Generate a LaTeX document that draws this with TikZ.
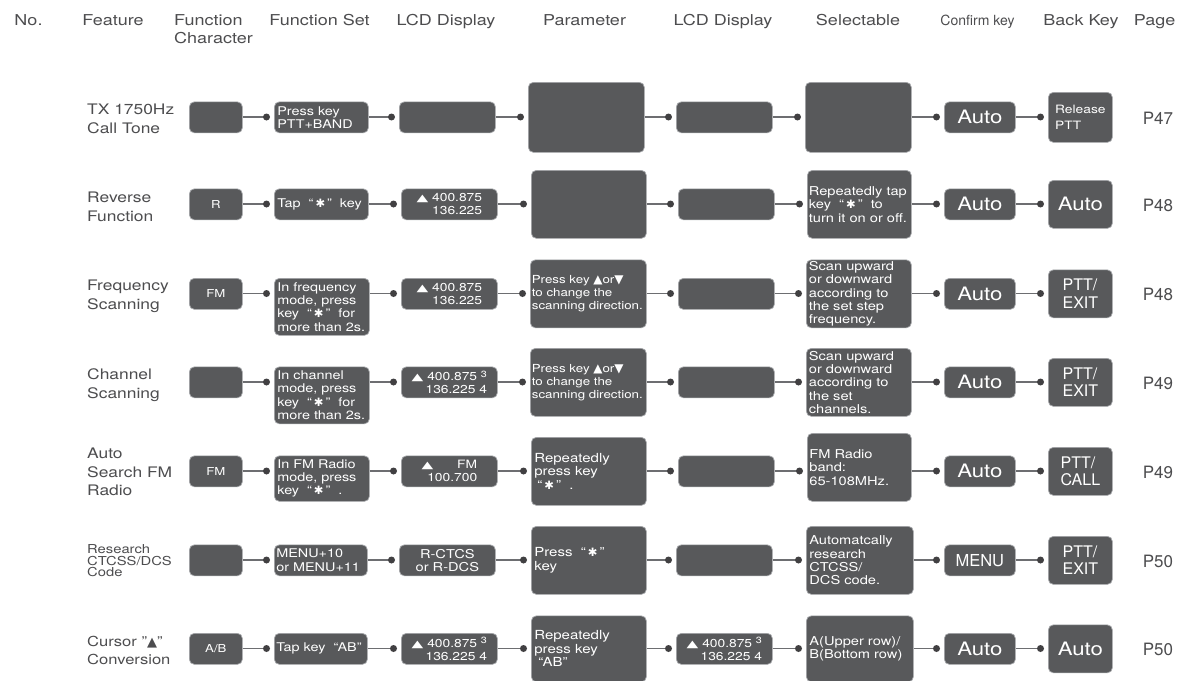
\documentclass[tikz,border=0pt]{standalone}
\usepackage{fontspec}
\setmainfont{TeX Gyre Heros}[FakeStretch=1.2]
\newfontfamily\plainf{TeX Gyre Heros}
\newfontfamily\symf{DejaVu Sans}
\usetikzlibrary{calc}
\definecolor{boxfill}{HTML}{58595B}
\definecolor{boxline}{HTML}{A7A9AC}
\definecolor{connc}{HTML}{6D6E71}
\definecolor{dotc}{HTML}{414042}
\definecolor{labc}{HTML}{4D4D4F}
\newcommand{\tri}{\scalebox{1.45}[0.95]{\symf\fontsize{10.5}{10}\selectfont ▲}}
\newcommand{\tru}{{\symf\fontsize{12}{10}\selectfont ▲}}
\newcommand{\trd}{{\symf\fontsize{12}{10}\selectfont ▼}}
\newcommand{\stk}{“\,{\symf\fontsize{11.5}{10}\selectfont ✱}\,”}
\newcommand{\sth}{\raisebox{3.5pt}{\fontsize{9}{9}\selectfont 3}}
\newcommand{\bx}[7][]{%
  \pgfmathsetmacro{\bxw}{(#5)-(#3)}%
  \pgfmathsetmacro{\bxh}{(#6)-(#4)}%
  \node[box, anchor=north west, minimum width=\bxw pt, minimum height=\bxh pt, #1] (#2) at (#3,#4) {#7};}
\newcommand{\lnk}[3]{\draw[conn] (#1.east |- #3) -- ($(#2.west |- #3)+(-7.5,0)$) node[dotn]{};}
\tikzset{
 box/.style={fill=boxfill, draw=boxline, line width=0.7pt, rounded corners=5pt, text=white, inner sep=0pt, align=center, font=\fontsize{12.2}{13.3}\selectfont},
 conn/.style={draw=connc, line width=1.5pt},
 dotn/.style={circle, fill=dotc, draw=none, inner sep=0pt, minimum size=7pt},
 hdr/.style={text=labc, font=\fontsize{15}{18}\selectfont, anchor=base, inner sep=0pt},
 feat/.style={text=labc, anchor=west, align=left, inner sep=0pt, font=\fontsize{14.5}{18.5}\selectfont},
 pg/.style={text=labc, inner sep=0pt, font=\plainf\fontsize{17}{18}\selectfont},
 lt/.style={align=left, text width=#1},
 fsf/.style={font=\fontsize{12}{13.3}\selectfont},
 big/.style={font=\fontsize{18.5}{20}\selectfont},
 bk/.style={font=\plainf\fontsize{16}{17.5}\selectfont, align=left},
 lcd/.style={font=\fontsize{11.5}{13}\selectfont, align=right},
 fcs/.style={font=\fontsize{11}{12}\selectfont},
}
\begin{document}
\begin{tikzpicture}[x=1pt,y=-1pt]
\fill[white] (0,0) rectangle (1177,680);
\useasboundingbox (0,0) rectangle (1177,680);
% headers
\node[hdr] (h1) at (28.5,25) {No.};
\node[hdr] (h2) at (113,25) {Feature};
\node[hdr, anchor=north west, align=left] (h3) at (174,14) {Function\\Character};
\node[hdr] (h4) at (319.5,25) {Function Set};
\node[hdr] (h5) at (446,25) {LCD Display};
\node[hdr] (h6) at (584.5,25) {Parameter};
\node[hdr] (h7) at (723,25) {LCD Display};
\node[hdr] (h8) at (858,25) {Selectable};
\node[hdr, font=\plainf\fontsize{14}{16}\selectfont] (h9) at (977.5,25) {Confirm key};
\node[hdr] (h10) at (1081,25) {Back Key};
\node[hdr] (h11) at (1154.5,25) {Page};
% ---------------- row 1
\pgfmathsetmacro\rc{117}
\coordinate (y1) at (0,\rc);
\node[feat] (f1) at (87,\rc+2) {TX 1750Hz\\Call Tone};
\bx[fcs]{fc1}{189}{\rc-15.5}{242}{\rc+15.5}{}
\bx[lt=88pt, fsf]{fs1}{274}{\rc-15.5}{368}{\rc+15.5}{Press key\\PTT+BAND}
\bx[lcd]{lcd1}{399}{\rc-15.5}{495}{\rc+15.5}{}
\bx{par1}{528}{\rc-35}{644}{\rc+35}{}
\bx[lcd]{lcdb1}{676}{\rc-15.5}{772}{\rc+15.5}{}
\bx{sel1}{805}{\rc-35}{911}{\rc+35}{}
\bx[big]{con1}{944}{\rc-15.5}{1015}{\rc+15.5}{Auto}
\bx[bk, font=\fontsize{11.5}{16}\selectfont]{bak1}{1048}{\rc-25}{1112}{\rc+25}{Release\\PTT}
\node[pg] (p1) at (1158,\rc+1) {P47};
\lnk{fc1}{fs1}{y1}\lnk{fs1}{lcd1}{y1}\lnk{lcd1}{par1}{y1}\lnk{par1}{lcdb1}{y1}
\lnk{lcdb1}{sel1}{y1}\lnk{sel1}{con1}{y1}\lnk{con1}{bak1}{y1}
% ---------------- row 2
\pgfmathsetmacro\rc{204}
\coordinate (y2) at (0,\rc);
\node[feat] (f2) at (87,\rc+3) {Reverse\\Function};
\bx[fcs]{fc2}{189}{\rc-15.5}{242}{\rc+15.5}{R}
\bx[lt=88pt, fsf]{fs2}{274}{\rc-15.5}{368}{\rc+15.5}{\mbox{Tap \ \stk\ \ key}}
\bx[lcd]{lcd2}{401}{\rc-15.5}{497}{\rc+15.5}{\tri\ 400.875\\136.225}
\bx{par2}{531}{\rc-34}{646}{\rc+34}{}
\bx[lcd]{lcdb2}{678}{\rc-15.5}{774}{\rc+15.5}{}
\bx[lt=101pt]{sel2}{807}{\rc-34}{911}{\rc+34}{\mbox{Repeatedly tap}\\key \ \stk\ \ to\\\mbox{turn it on or off.}}
\bx[big]{con2}{944}{\rc-15.5}{1015}{\rc+15.5}{Auto}
\bx[big]{bak2}{1048}{\rc-24}{1112}{\rc+24}{Auto}
\node[pg] (p2) at (1158,\rc+1) {P48};
\lnk{fc2}{fs2}{y2}\lnk{fs2}{lcd2}{y2}\lnk{lcd2}{par2}{y2}\lnk{par2}{lcdb2}{y2}
\lnk{lcdb2}{sel2}{y2}\lnk{sel2}{con2}{y2}\lnk{con2}{bak2}{y2}
% ---------------- row 3
\pgfmathsetmacro\rc{293.5}
\coordinate (y3) at (0,\rc);
\node[feat] (f3) at (87,\rc+3) {Frequency\\Scanning};
\bx[fcs]{fc3}{189}{\rc-15.5}{242}{\rc+15.5}{FM}
\bx[lt=89pt, fsf]{fs3}{274}{\rc-15.5}{369}{\rc+41.5}{\mbox{In frequency}\\\mbox{mode, press}\\\mbox{key \ \stk\ \ for}\\\mbox{more than 2s.}}
\bx[lcd]{lcd3}{401}{\rc-15.5}{497}{\rc+15.5}{\tri\ 400.875\\136.225}
\bx[lt=113pt, font=\fontsize{11.1}{13}\selectfont]{par3}{530}{\rc-34}{646}{\rc+34}{\mbox{Press key \tru or\trd}\\to change the\\\mbox{scanning direction.}}
\bx[lcd]{lcdb3}{678}{\rc-15.5}{774}{\rc+15.5}{}
\bx[lt=100pt]{sel3}{806}{\rc-34}{911}{\rc+34}{Scan upward\\or downward\\according to\\the set step\\frequency.}
\bx[big]{con3}{944}{\rc-15.5}{1015}{\rc+15.5}{Auto}
\bx[bk]{bak3}{1048}{\rc-24}{1112}{\rc+24}{PTT/\\EXIT}
\node[pg] (p3) at (1158,\rc+1) {P48};
\lnk{fc3}{fs3}{y3}\lnk{fs3}{lcd3}{y3}\lnk{lcd3}{par3}{y3}\lnk{par3}{lcdb3}{y3}
\lnk{lcdb3}{sel3}{y3}\lnk{sel3}{con3}{y3}\lnk{con3}{bak3}{y3}
% ---------------- row 4
\pgfmathsetmacro\rc{382}
\coordinate (y4) at (0,\rc);
\node[feat] (f4) at (87,\rc+3) {Channel\\Scanning};
\bx[fcs]{fc4}{189}{\rc-15.5}{242}{\rc+15.5}{}
\bx[lt=89pt, fsf]{fs4}{274}{\rc-15.5}{369}{\rc+41.5}{\mbox{In channel}\\\mbox{mode, press}\\\mbox{key \ \stk\ \ for}\\\mbox{more than 2s.}}
\bx[lcd]{lcd4}{401}{\rc-15.5}{497}{\rc+15.5}{\tri\ 400.875 \sth\\136.225 4}
\bx[lt=113pt, font=\fontsize{11.1}{13}\selectfont]{par4}{530}{\rc-34}{646}{\rc+34}{\mbox{Press key \tru or\trd}\\to change the\\\mbox{scanning direction.}}
\bx[lcd]{lcdb4}{678}{\rc-15.5}{774}{\rc+15.5}{}
\bx[lt=100pt]{sel4}{806}{\rc-34}{911}{\rc+34}{Scan upward\\or downward\\according to\\the set\\channels.}
\bx[big]{con4}{944}{\rc-15.5}{1015}{\rc+15.5}{Auto}
\bx[bk]{bak4}{1048}{\rc-24}{1112}{\rc+24}{PTT/\\EXIT}
\node[pg] (p4) at (1158,\rc+1) {P49};
\lnk{fc4}{fs4}{y4}\lnk{fs4}{lcd4}{y4}\lnk{lcd4}{par4}{y4}\lnk{par4}{lcdb4}{y4}
\lnk{lcdb4}{sel4}{y4}\lnk{sel4}{con4}{y4}\lnk{con4}{bak4}{y4}
% ---------------- row 5
\pgfmathsetmacro\rc{471}
\coordinate (y5) at (0,\rc);
\node[feat] (f5) at (87,\rc+1) {Auto\\Search FM\\Radio};
\bx[fcs]{fc5}{189}{\rc-15.5}{242}{\rc+15.5}{FM}
\bx[lt=89pt, fsf]{fs5}{274}{\rc-15.5}{369}{\rc+30}{\mbox{In FM Radio}\\\mbox{mode, press}\\\mbox{key \ \stk\ \ .}}
\bx[lcd]{lcd5}{401}{\rc-15.5}{497}{\rc+15.5}{\tri\hspace{24pt}FM\hspace{7pt}\\100.700}
\bx[lt=109pt, font=\fontsize{12.5}{13.5}\selectfont]{par5}{531}{\rc-34}{646}{\rc+34}{Repeatedly\\press key\\\hspace{3pt}\stk\ \ .}
\bx[lcd]{lcdb5}{678}{\rc-15.5}{774}{\rc+15.5}{}
\bx[lt=100pt]{sel5}{807}{\rc-38}{911}{\rc+30}{FM Radio\\band:\\65-108MHz.}
\bx[big]{con5}{944}{\rc-15.5}{1015}{\rc+15.5}{Auto}
\bx[bk]{bak5}{1048}{\rc-24}{1112}{\rc+24}{PTT/\\CALL}
\node[pg] (p5) at (1158,\rc+1) {P49};
\lnk{fc5}{fs5}{y5}\lnk{fs5}{lcd5}{y5}\lnk{lcd5}{par5}{y5}\lnk{par5}{lcdb5}{y5}
\lnk{lcdb5}{sel5}{y5}\lnk{sel5}{con5}{y5}\lnk{con5}{bak5}{y5}
% ---------------- row 6
\pgfmathsetmacro\rc{560}
\coordinate (y6) at (0,\rc);
\node[feat, font=\fontsize{12.3}{11.5}\selectfont] (f6) at (87,\rc+1) {Research\\CTCSS/DCS\\Code};
\bx[fcs]{fc6}{189}{\rc-15.5}{242}{\rc+15.5}{}
\bx[lt=89pt, fsf]{fs6}{274}{\rc-15.5}{367}{\rc+15.5}{MENU+10\\\mbox{or MENU+11}}
\bx[font=\fontsize{12.2}{13}\selectfont]{lcd6}{399}{\rc-15.5}{495}{\rc+15.5}{R-CTCS\\or R-DCS}
\bx[lt=109pt, font=\fontsize{12.5}{13.5}\selectfont]{par6}{531}{\rc-34}{646}{\rc+34}{Press \ \stk\\key\\[4pt]}
\bx[lcd]{lcdb6}{676}{\rc-15.5}{772}{\rc+15.5}{}
\bx[lt=101pt]{sel6}{806}{\rc-34}{913}{\rc+34}{Automatcally\\research\\CTCSS/\\DCS code.}
\bx[font=\plainf\fontsize{16.5}{18}\selectfont]{con6}{944}{\rc-15.5}{1015}{\rc+15.5}{MENU}
\bx[bk]{bak6}{1048}{\rc-24}{1112}{\rc+24}{PTT/\\EXIT}
\node[pg] (p6) at (1158,\rc+1) {P50};
\lnk{fc6}{fs6}{y6}\lnk{fs6}{lcd6}{y6}\lnk{lcd6}{par6}{y6}\lnk{par6}{lcdb6}{y6}
\lnk{lcdb6}{sel6}{y6}\lnk{sel6}{con6}{y6}\lnk{con6}{bak6}{y6}
% ---------------- row 7
\pgfmathsetmacro\rc{648.5}
\coordinate (y7) at (0,\rc);
\node[feat, font=\fontsize{13.8}{18.5}\selectfont] (f7) at (87,\rc+2) {Cursor "{\symf\fontsize{13}{11}\selectfont ▲}"\\Conversion};
\bx[fcs]{fc7}{189}{\rc-15.5}{242}{\rc+15.5}{A/B}
\bx[lt=89pt, fsf]{fs7}{274}{\rc-15.5}{367}{\rc+15.5}{\mbox{Tap key \ “AB”}}
\bx[lcd]{lcd7}{401}{\rc-15.5}{497}{\rc+15.5}{\tri\ 400.875 \sth\\136.225 4}
\bx[lt=109pt, font=\fontsize{12.5}{13.5}\selectfont]{par7}{531}{\rc-33}{646}{\rc+33}{Repeatedly\\press key\\\hspace{4pt}“AB”\\[4pt]}
\bx[lcd]{lcdb7}{676}{\rc-15.5}{772}{\rc+15.5}{\tri\ 400.875 \sth\\136.225 4}
\bx[lt=101pt]{sel7}{806}{\rc-33}{913}{\rc+33}{\mbox{A(Upper row)/}\\\mbox{B(Bottom row)}}
\bx[big]{con7}{944}{\rc-15.5}{1015}{\rc+15.5}{Auto}
\bx[big]{bak7}{1048}{\rc-24}{1112}{\rc+24}{Auto}
\node[pg] (p7) at (1158,\rc+1) {P50};
\lnk{fc7}{fs7}{y7}\lnk{fs7}{lcd7}{y7}\lnk{lcd7}{par7}{y7}\lnk{par7}{lcdb7}{y7}
\lnk{lcdb7}{sel7}{y7}\lnk{sel7}{con7}{y7}\lnk{con7}{bak7}{y7}
\end{tikzpicture}
\end{document}
